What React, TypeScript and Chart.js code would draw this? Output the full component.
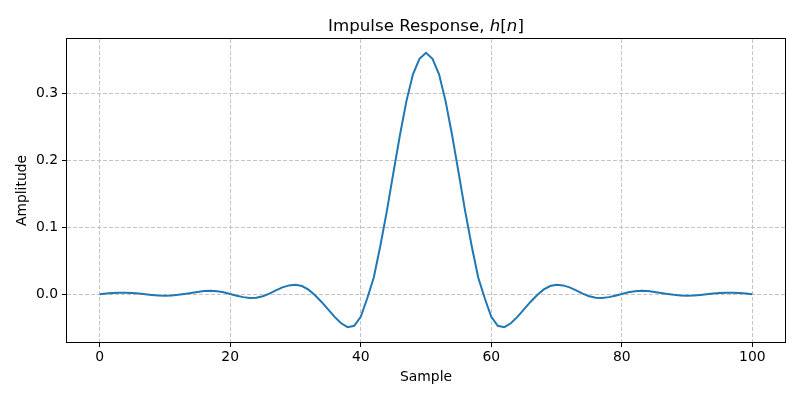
import React, { useEffect, useRef } from "react";
import { Chart, registerables } from "chart.js";

Chart.register(...registerables);

const sampleIndex = [
  0, 1, 2, 3, 4, 5, 6, 7, 8, 9, 10, 11, 12, 13, 14, 15, 16, 17, 18, 19, 20,
  21, 22, 23, 24, 25, 26, 27, 28, 29, 30, 31, 32, 33, 34, 35, 36, 37, 38, 39, 40,
  41, 42, 43, 44, 45, 46, 47, 48, 49, 50, 51, 52, 53, 54, 55, 56, 57, 58, 59, 60,
  61, 62, 63, 64, 65, 66, 67, 68, 69, 70, 71, 72, 73, 74, 75, 76, 77, 78, 79, 80,
  81, 82, 83, 84, 85, 86, 87, 88, 89, 90, 91, 92, 93, 94, 95, 96, 97, 98, 99, 100,
];

const amplitude = [
  0.0, 0.001, 0.0018, 0.0024, 0.0024, 0.0019, 0.001, 0.0, -0.001, -0.0018,
  -0.0021, -0.0018, -0.0009, 0.0004, 0.0019, 0.0035, 0.0047, 0.0052, 0.0046, 0.0029,
  0.0005, -0.0021, -0.0043, -0.0055, -0.0052, -0.003, 0.001, 0.0058, 0.0102, 0.0132,
  0.0142, 0.0122, 0.0068, -0.0015, -0.0115, -0.0225, -0.0338, -0.0433, -0.049, -0.047,
  -0.0335, -0.006, 0.025, 0.072, 0.124, 0.181, 0.237, 0.288, 0.328, 0.351,
  0.36,
  0.351, 0.328, 0.288, 0.237, 0.181, 0.124, 0.072, 0.025, -0.006, -0.0335,
  -0.047, -0.049, -0.0433, -0.0338, -0.0225, -0.0115, -0.0015, 0.0068, 0.0122, 0.0142,
  0.0132, 0.0102, 0.0058, 0.001, -0.003, -0.0052, -0.0055, -0.0043, -0.0021, 0.0005,
  0.0029, 0.0046, 0.0052, 0.0047, 0.0035, 0.0019, 0.0004, -0.0009, -0.0018, -0.0021,
  -0.0018, -0.001, 0.0, 0.001, 0.0019, 0.0024, 0.0024, 0.0018, 0.001, 0.0,
];

const xTickValues = [0, 20, 40, 60, 80, 100];
const yTickValues = [0.0, 0.1, 0.2, 0.3];

const titleParts = [
  { text: "Impulse Response, ", italic: false },
  { text: "h", italic: true },
  { text: "[", italic: false },
  { text: "n", italic: true },
  { text: "]", italic: false },
];
const xAxisLabel = "Sample";
const yAxisLabel = "Amplitude";

const FONT = "'DejaVu Sans', sans-serif";

const frameAndTitlePlugin = {
  id: "frameAndTitle",
  afterDraw(chart: any) {
    const ctx = chart.ctx;
    const { left, right, top, bottom } = chart.chartArea;
    ctx.save();
    ctx.strokeStyle = "#000";
    ctx.lineWidth = 1;
    ctx.setLineDash([]);
    ctx.strokeRect(left - 0.5, top - 0.5, right - left + 1, bottom - top + 1);
    const size = 16.67;
    const widths = titleParts.map((p) => {
      ctx.font = `${p.italic ? "italic " : ""}${size}px ${FONT}`;
      return ctx.measureText(p.text).width;
    });
    const total = widths.reduce((a, b) => a + b, 0);
    let x = (left + right) / 2 - total / 2;
    ctx.fillStyle = "#000";
    ctx.textBaseline = "alphabetic";
    ctx.textAlign = "left";
    titleParts.forEach((p, i) => {
      ctx.font = `${p.italic ? "italic " : ""}${size}px ${FONT}`;
      ctx.fillText(p.text, x, 31);
      x += widths[i];
    });
    ctx.restore();
  },
};

export default function App() {
  const canvasRef = useRef<HTMLCanvasElement | null>(null);

  useEffect(() => {
    if (!canvasRef.current) return;
    const data = sampleIndex.map((n, i) => ({ x: n, y: amplitude[i] }));
    const gridCommon = {
      color: "#c4c4c4",
      lineWidth: 1,
      tickColor: "#000",
      tickLength: 5,
      tickWidth: 1,
      drawTicks: true,
    };
    const chart = new Chart(canvasRef.current, {
      type: "line",
      data: {
        datasets: [
          {
            data,
            borderColor: "#1f77b4",
            borderWidth: 2,
            pointRadius: 0,
            tension: 0,
            fill: false,
          },
        ],
      },
      options: {
        animation: false,
        responsive: false,
        events: [],
        layout: { padding: { top: 39, right: 15, left: 0, bottom: 0 } },
        plugins: {
          legend: { display: false },
          tooltip: { enabled: false },
          title: { display: false },
        },
        scales: {
          x: {
            type: "linear",
            min: -5,
            max: 105,
            afterBuildTicks: (scale: any) => {
              scale.ticks = xTickValues.map((v) => ({ value: v }));
            },
            afterFit: (scale: any) => {
              scale.height = 58;
            },
            grid: gridCommon,
            border: { display: false, dash: [4, 2] },
            ticks: {
              color: "#000",
              font: { family: FONT, size: 13.9 },
              padding: 2,
              maxRotation: 0,
              callback: (v: any) => String(Math.round(Number(v))),
            },
            title: {
              display: true,
              text: xAxisLabel,
              color: "#000",
              font: { family: FONT, size: 13.9 },
              padding: { top: 0, bottom: 14 },
            },
          },
          y: {
            type: "linear",
            min: -0.0712,
            max: 0.3806,
            afterBuildTicks: (scale: any) => {
              scale.ticks = yTickValues.map((v) => ({ value: v }));
            },
            afterFit: (scale: any) => {
              scale.width = 67;
            },
            grid: gridCommon,
            border: { display: false, dash: [4, 2] },
            ticks: {
              color: "#000",
              font: { family: FONT, size: 13.9 },
              padding: 4,
              callback: (v: any) => Number(v).toFixed(1),
            },
            title: {
              display: true,
              text: yAxisLabel,
              color: "#000",
              font: { family: FONT, size: 13.9 },
              padding: { top: 13.6, bottom: 0 },
            },
          },
        },
      },
      plugins: [frameAndTitlePlugin],
    } as any);
    return () => chart.destroy();
  }, []);

  return (
    <div style={{ position: "fixed", left: 0, top: 0, width: 800, height: 400, background: "#fff" }}>
      <canvas ref={canvasRef} width={800} height={400} />
    </div>
  );
}
